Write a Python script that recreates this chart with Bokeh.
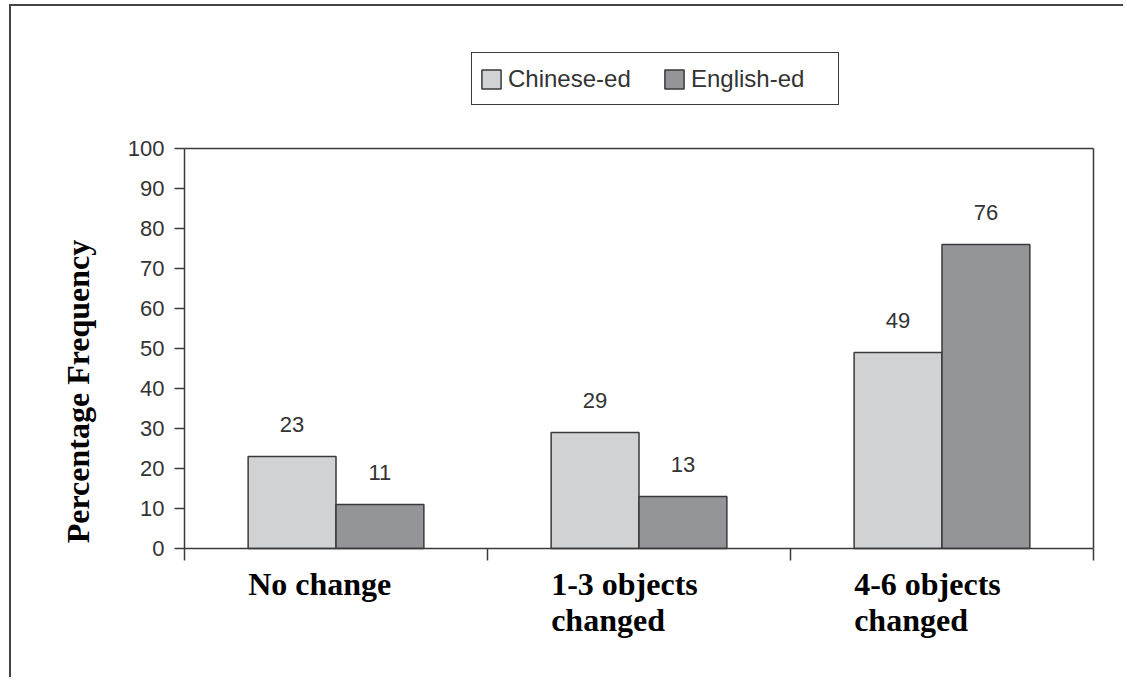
import math
from bokeh.plotting import figure
from bokeh.models import ColumnDataSource, FixedTicker, Label, LinearAxis, Range1d
from bokeh.embed import file_html
from bokeh.resources import INLINE
from bokeh.core.properties import value

# ---- data ----
categories = ["No change", "1-3 objects\nchanged", "4-6 objects\nchanged"]
series_names = ["Chinese-ed", "English-ed"]
chinese_ed = [23, 29, 49]
english_ed = [11, 13, 76]
y_ticks = [0, 10, 20, 30, 40, 50, 60, 70, 80, 90, 100]
y_title = "Percentage Frequency"

# ---- style ----
LIGHT = "#d1d2d4"
DARK = "#939598"
LINE = "#3a3a3a"
TXT = "#333333"
BAR_W = 0.29
W, H = 1114, 673
PX_X = 303.0   # px per category
PX_Y = 4.0     # px per percent
X0, Y0 = 173, 542  # canvas px of data origin

n = len(categories)
x_range = Range1d(-X0 / PX_X, (W - X0) / PX_X)
y_range = Range1d((Y0 - H) / PX_Y, Y0 / PX_Y)

p = figure(width=W, height=H, x_range=x_range, y_range=y_range,
           x_axis_type=None, y_axis_type=None,
           output_backend="svg", toolbar_location=None,
           min_border=0)
p.styles = {"margin": "4px 0 0 9px",
            "border-top": "2px solid #444", "border-left": "2px solid #444"}
p.background_fill_color = "white"
p.border_fill_color = "white"
p.outline_line_color = None

src_c = ColumnDataSource(dict(
    x=[i + 0.5 - BAR_W / 2 for i in range(n)], top=chinese_ed,
    label=[str(v) for v in chinese_ed]))
src_e = ColumnDataSource(dict(
    x=[i + 0.5 + BAR_W / 2 for i in range(n)], top=english_ed,
    label=[str(v) for v in english_ed]))

p.vbar(x="x", top="top", bottom=0, width=BAR_W, source=src_c,
       fill_color=LIGHT, line_color=LINE, line_width=1.5,
       legend_label=series_names[0])
p.vbar(x="x", top="top", bottom=0, width=BAR_W, source=src_e,
       fill_color=DARK, line_color=LINE, line_width=1.5,
       legend_label=series_names[1])

for src in (src_c, src_e):
    p.text(x="x", y="top", text="label", source=src, y_offset=-32,
           text_align="center", text_baseline="middle",
           text_font=value("Liberation Sans"), text_font_size="22px",
           text_color=TXT)


def style_axis(ax, tick_out):
    ax.major_tick_out = tick_out
    ax.major_tick_in = 0
    ax.minor_tick_out = 0
    ax.minor_tick_in = 0
    ax.axis_line_color = LINE
    ax.axis_line_width = 1.5
    ax.major_tick_line_color = LINE
    ax.major_tick_line_width = 1.5


# left axis
yaxis = LinearAxis(fixed_location=0, bounds=(0, 100),
                   ticker=FixedTicker(ticks=y_ticks))
style_axis(yaxis, 10)
yaxis.major_label_standoff = 10
yaxis.major_label_text_font = "Liberation Sans"
yaxis.major_label_text_font_size = "22px"
yaxis.major_label_text_color = TXT
p.add_layout(yaxis, "left")

# bottom axis
xaxis = LinearAxis(fixed_location=0, bounds=(0, n),
                   ticker=FixedTicker(ticks=list(range(n + 1))))
style_axis(xaxis, 12)
xaxis.major_label_text_color = None
p.add_layout(xaxis, "below")

# right frame line
raxis = LinearAxis(fixed_location=n, bounds=(0, 100),
                   ticker=FixedTicker(ticks=[]))
style_axis(raxis, 0)
raxis.major_label_text_color = None
p.add_layout(raxis, "right")

# top frame line
taxis = LinearAxis(fixed_location=100, bounds=(0, n),
                   ticker=FixedTicker(ticks=[]))
style_axis(taxis, 0)
taxis.major_label_text_color = None
p.add_layout(taxis, "above")

# category labels
for i, cat in enumerate(categories):
    p.add_layout(Label(x=i + 0.5 - BAR_W, y=-4.25, text=cat,
                       text_align="left", text_baseline="top",
                       text_font="Liberation Serif", text_font_style="bold",
                       text_font_size="32px", text_color="black",
                       text_line_height=1.0))

# y title
p.add_layout(Label(x=-0.353, y=39.25, text=y_title, angle=math.pi / 2,
                   text_align="center", text_baseline="middle",
                   text_font="Liberation Serif", text_font_style="bold",
                   text_font_size="32px", text_color="black"))

# legend
lg = p.legend[0]
lg.orientation = "horizontal"
lg.location = (460, H - 99)
lg.padding = 7
lg.margin = 0
lg.spacing = 14
lg.glyph_width = 24
lg.glyph_height = 24
lg.label_standoff = 5
lg.label_width = 140
lg.label_height = 37
lg.label_text_font = "Liberation Sans"
lg.label_text_font_size = "24px"
lg.label_text_color = TXT
lg.border_line_color = LINE
lg.border_line_width = 1.5
lg.border_line_alpha = 1
lg.background_fill_alpha = 1

open("out.html", "w").write(file_html(p, INLINE))
